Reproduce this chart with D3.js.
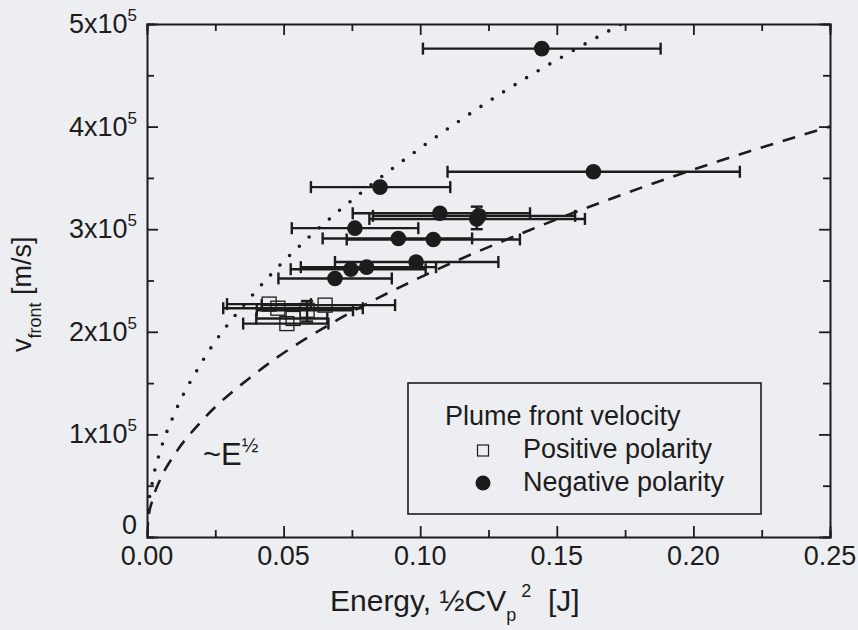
<!DOCTYPE html>
<html>
<head>
<meta charset="utf-8">
<script src="https://cdn.jsdelivr.net/npm/d3@7"></script>
<style>
  body { margin: 0; background: #edeef1; }
  svg { display: block; font-family: "Liberation Sans", Arial, sans-serif; }
</style>
</head>
<body>
<svg id="chart"></svg>
<script>
// negative polarity (filled circles)
const negEnergy = [0.1445, 0.1634, 0.0853, 0.1072, 0.1207, 0.1215, 0.0761, 0.0920, 0.1048, 0.0985, 0.0804, 0.0746, 0.0688];
const negVel    = [4.76e5, 3.56e5, 3.41e5, 3.155e5, 3.10e5, 3.13e5, 3.01e5, 2.91e5, 2.90e5, 2.68e5, 2.63e5, 2.61e5, 2.52e5];
const negElo    = [0.101, 0.110, 0.060, 0.0753, 0.0814, 0.0827, 0.053, 0.0643, 0.0731, 0.0688, 0.0563, 0.0526, 0.0481];
const negEhi    = [0.188, 0.217, 0.111, 0.1402, 0.1603, 0.1567, 0.0993, 0.1190, 0.1365, 0.1286, 0.1058, 0.1020, 0.0896];
const negVlo    = [null, null, null, null, 3.00e5, null, null, null, null, null, null, null, null];
const negVhi    = [null, null, null, null, 3.22e5, null, null, null, null, null, null, null, null];

// positive polarity (open squares)
const posEnergy = [0.0447, 0.0479, 0.0586, 0.0652, 0.0512, 0.0535];
const posVel    = [2.27e5, 2.23e5, 2.21e5, 2.26e5, 2.08e5, 2.13e5];
const posElo    = [0.0293, 0.0279, 0.0402, 0.0420, 0.0352, 0.0400];
const posEhi    = [0.0600, 0.0790, 0.0754, 0.0908, 0.0664, 0.0660];
const posVlo    = [null, null, 2.10e5, null, null, null];
const posVhi    = [null, null, 2.30e5, null, null, null];

// ~E^1/2 guide curves
const dottedE = [0, 0.0005, 0.002, 0.005, 0.01, 0.02, 0.04, 0.06, 0.08, 0.10, 0.13, 0.1736];
const dottedV = [0, 0.27e5, 0.54e5, 0.85e5, 1.2e5, 1.7e5, 2.4e5, 2.94e5, 3.39e5, 3.79e5, 4.33e5, 5.0e5];
const dashedE = [0, 0.0005, 0.002, 0.005, 0.01, 0.02, 0.04, 0.07, 0.10, 0.14, 0.19, 0.25];
const dashedV = [0, 0.18e5, 0.36e5, 0.57e5, 0.8e5, 1.13e5, 1.6e5, 2.12e5, 2.53e5, 2.99e5, 3.49e5, 4.0e5];

const xTicks = [0, 0.05, 0.10, 0.15, 0.20, 0.25];
const xTickLabels = ["0.00", "0.05", "0.10", "0.15", "0.20", "0.25"];
const yTicks = [0, 1e5, 2e5, 3e5, 4e5, 5e5];
const yTickMant = ["0", "1", "2", "3", "4", "5"];

const width = 858, height = 630;
const marginLeft = 147, marginRight = 28, marginTop = 24, marginBottom = 93;
const ink = "#1c1c1c";

const x = d3.scaleLinear().domain([0, 0.25]).range([marginLeft, width - marginRight]);
const y = d3.scaleLinear().domain([0, 5e5]).range([height - marginBottom, marginTop]);

const svg = d3.select("#chart").attr("width", width).attr("height", height);

svg.append("rect").attr("width", width).attr("height", height).attr("fill", "#edeef1");

// axes with inward ticks on all four sides
const minorX = d3.range(0, 0.2501, 0.025);
const minorY = d3.range(0, 5.01e5, 0.5e5);
const isMajorX = d => xTicks.some(t => Math.abs(t - d) < 1e-9);

svg.append("g")
  .attr("transform", `translate(0,${height - marginBottom})`)
  .call(d3.axisBottom(x).tickValues(minorX).tickSize(-7).tickFormat(""))
  .call(g => g.selectAll(".tick line").filter(isMajorX).attr("y2", -11));
svg.append("g")
  .attr("transform", `translate(0,${marginTop})`)
  .call(d3.axisTop(x).tickValues(minorX).tickSize(-7).tickFormat(""))
  .call(g => g.selectAll(".tick line").filter(isMajorX).attr("y2", 11));
svg.append("g")
  .attr("transform", `translate(${marginLeft},0)`)
  .call(d3.axisLeft(y).tickValues(minorY).tickSize(-7).tickFormat(""))
  .call(g => g.selectAll(".tick line").filter(d => yTicks.includes(d)).attr("x2", 11));
svg.append("g")
  .attr("transform", `translate(${width - marginRight},0)`)
  .call(d3.axisRight(y).tickValues(minorY).tickSize(-7).tickFormat(""))
  .call(g => g.selectAll(".tick line").filter(d => yTicks.includes(d)).attr("x2", -11));

svg.selectAll(".domain").attr("stroke", ink).attr("stroke-width", 2);
svg.selectAll(".tick line").attr("stroke", ink).attr("stroke-width", 1.8);

// tick labels
svg.append("g").selectAll("text")
  .data(xTicks)
  .join("text")
  .attr("x", d => x(d))
  .attr("y", height - marginBottom + 28)
  .attr("text-anchor", "middle")
  .attr("font-size", 27)
  .attr("fill", ink)
  .text((d, i) => xTickLabels[i]);

const yl = svg.append("g").selectAll("text")
  .data(yTicks)
  .join("text")
  .attr("x", 137)
  .attr("y", d => y(d) + (d === 0 ? -3 : 9))
  .attr("text-anchor", "end")
  .attr("font-size", 27)
  .attr("fill", ink);
yl.append("tspan").text((d, i) => yTickMant[i] + (d === 0 ? "" : "x10"));
yl.filter(d => d !== 0).append("tspan").attr("dy", -12).attr("font-size", 17).text("5");

// axis titles
const xt = svg.append("text")
  .attr("x", 330).attr("y", 611)
  .attr("font-size", 30).attr("fill", ink);
xt.append("tspan").text("Energy, ½CV");
xt.append("tspan").attr("dy", 10).attr("font-size", 18).text("p");
xt.append("tspan").attr("dy", -24).attr("dx", 5).attr("font-size", 18).text("2");
xt.append("tspan").attr("dy", 14).text("\u00a0 [J]");

const yt = svg.append("text")
  .attr("transform", "translate(31,352) rotate(-90)")
  .attr("font-size", 27).attr("fill", ink);
yt.append("tspan").text("v");
yt.append("tspan").attr("dy", 10).attr("font-size", 18).text("front");
yt.append("tspan").attr("dy", -10).text(" [m/s]");

// guide curves
const plot = svg.append("g");
plot.append("clipPath").attr("id", "clip")
  .append("rect").attr("x", marginLeft).attr("y", marginTop)
  .attr("width", width - marginLeft - marginRight).attr("height", height - marginTop - marginBottom);

const line = d3.line().x(d => x(d[0])).y(d => y(d[1])).curve(d3.curveMonotoneX);
plot.append("path")
  .attr("clip-path", "url(#clip)")
  .attr("d", line(d3.zip(dottedE, dottedV)))
  .attr("fill", "none").attr("stroke", ink)
  .attr("stroke-width", 3.6).attr("stroke-linecap", "round")
  .attr("stroke-dasharray", "0 13.5");
plot.append("path")
  .attr("clip-path", "url(#clip)")
  .attr("d", line(d3.zip(dashedE, dashedV)))
  .attr("fill", "none").attr("stroke", ink)
  .attr("stroke-width", 2.6)
  .attr("stroke-dasharray", "13 10");

// error bars
function errorBars(E, V, lo, hi, vlo, vhi) {
  const g = plot.append("g").attr("stroke", ink).attr("stroke-width", 2.4);
  E.forEach((e, i) => {
    const cy = y(V[i]);
    g.append("line").attr("x1", x(lo[i])).attr("x2", x(hi[i])).attr("y1", cy).attr("y2", cy);
    g.append("line").attr("x1", x(lo[i])).attr("x2", x(lo[i])).attr("y1", cy - 6).attr("y2", cy + 6);
    g.append("line").attr("x1", x(hi[i])).attr("x2", x(hi[i])).attr("y1", cy - 6).attr("y2", cy + 6);
    if (vlo[i] != null) {
      const cx = x(e);
      g.append("line").attr("x1", cx).attr("x2", cx).attr("y1", y(vlo[i])).attr("y2", y(vhi[i]));
      g.append("line").attr("x1", cx - 6).attr("x2", cx + 6).attr("y1", y(vhi[i])).attr("y2", y(vhi[i]));
      g.append("line").attr("x1", cx - 6).attr("x2", cx + 6).attr("y1", y(vlo[i])).attr("y2", y(vlo[i]));
    }
  });
}
errorBars(posEnergy, posVel, posElo, posEhi, posVlo, posVhi);
errorBars(negEnergy, negVel, negElo, negEhi, negVlo, negVhi);

plot.append("g").selectAll("rect")
  .data(d3.zip(posEnergy, posVel))
  .join("rect")
  .attr("x", d => x(d[0]) - 7)
  .attr("y", d => y(d[1]) - 7)
  .attr("width", 14).attr("height", 14)
  .attr("fill", "none").attr("stroke", ink).attr("stroke-width", 1.3);

plot.append("g").selectAll("circle")
  .data(d3.zip(negEnergy, negVel))
  .join("circle")
  .attr("cx", d => x(d[0]))
  .attr("cy", d => y(d[1]))
  .attr("r", 7.8)
  .attr("fill", ink);

// annotation
const ann = svg.append("text").attr("x", 203).attr("y", 465).attr("font-size", 31).attr("fill", ink);
ann.append("tspan").text("~E");
ann.append("tspan").attr("dy", -13).attr("font-size", 20).text("½");

// legend
const legend = svg.append("g");
legend.append("rect")
  .attr("x", 408).attr("y", 383).attr("width", 353).attr("height", 131)
  .attr("fill", "none").attr("stroke", ink).attr("stroke-width", 1.6);
legend.append("text").attr("x", 445).attr("y", 425).attr("font-size", 27).attr("fill", ink).text("Plume front velocity");
legend.append("rect").attr("x", 477.5).attr("y", 445).attr("width", 11).attr("height", 11)
  .attr("fill", "none").attr("stroke", ink).attr("stroke-width", 1.2);
legend.append("text").attr("x", 523).attr("y", 458).attr("font-size", 27).attr("fill", ink).text("Positive polarity");
legend.append("circle").attr("cx", 483).attr("cy", 483).attr("r", 7.5).attr("fill", ink);
legend.append("text").attr("x", 523).attr("y", 491).attr("font-size", 27).attr("fill", ink).text("Negative polarity");
</script>
</body>
</html>
